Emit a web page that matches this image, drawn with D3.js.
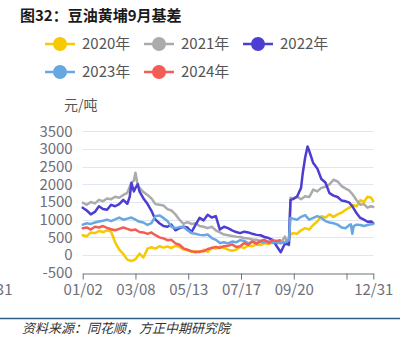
<!DOCTYPE html>
<html>
<head>
<meta charset="utf-8">
<script src="https://cdn.jsdelivr.net/npm/d3@7/dist/d3.min.js"></script>
<style>
  html, body { margin: 0; padding: 0; background: #fff; }
  svg { display: block; }
</style>
</head>
<body>
<svg id="chart" width="405" height="343"></svg>
<script>
// Category axis: tick dates and their positions in the daily category list
const tickLabels = ["01/02", "03/08", "05/13", "07/17", "09/20", "11/24", "12/31"];
const tickIndex = [0, 65, 130, 195, 260, 325, 358];
const hiddenTickLabels = ["11/24"];
const yTicks = [-500, 0, 500, 1000, 1500, 2000, 2500, 3000, 3500];

const seriesNames = ["2020年", "2021年", "2022年", "2023年", "2024年"];
const seriesColors = ["#f7c900", "#ababab", "#4c3dd3", "#68a8e2", "#f45c55"];

// Soybean oil Huangpu basis for the September contract, yuan/ton
const y2020 = [
  ["01/02",560],["01/07",530],["01/12",640],["01/17",620],["01/22",680],["01/27",650],
  ["02/01",700],["02/06",660],["02/11",360],["02/16",150],["02/21",30],["02/26",-130],
  ["03/03",-170],["03/08",-120],["03/13",40],["03/18",-70],["03/23",180],["03/28",220],
  ["04/02",180],["04/07",250],["04/12",210],["04/17",240],["04/22",200],["04/27",260],
  ["05/02",230],["05/07",160],["05/12",140],["05/17",90],["05/22",110],["05/27",80],
  ["06/01",150],["06/06",90],["06/11",210],["06/16",180],["06/21",240],["06/26",200],
  ["07/01",150],["07/06",120],["07/11",150],["07/16",230],["07/21",200],["07/26",270],
  ["07/31",250],["08/05",300],["08/10",280],["08/15",330],["08/20",310],["08/25",360],
  ["08/30",340],["09/04",380],["09/09",360],["09/14",400],["09/16",580],["09/19",620],
  ["09/24",600],["09/29",700],["10/04",760],["10/09",720],["10/14",850],["10/19",950],
  ["10/24",1100],["10/29",1060],["11/03",1150],["11/08",1080],["11/13",1150],["11/18",1200],
  ["11/23",1280],["11/28",1340],["12/03",1420],["12/08",1380],["12/13",1550],["12/18",1500],
  ["12/23",1650],["12/28",1620],["12/31",1520]
];
const y2021 = [
  ["01/02",1480],["01/07",1420],["01/12",1500],["01/17",1460],["01/22",1560],["01/27",1520],
  ["02/01",1600],["02/06",1580],["02/11",1650],["02/16",1620],["02/21",1700],["02/26",1760],
  ["03/03",2050],["03/06",2100],["03/08",2330],["03/11",1950],["03/13",1900],["03/18",1780],
  ["03/23",1700],["03/28",1600],["04/02",1440],["04/07",1420],["04/12",1400],["04/17",1300],
  ["04/22",1260],["04/27",1150],["05/02",1000],["05/07",880],["05/12",930],["05/17",880],
  ["05/22",900],["05/27",820],["06/01",800],["06/06",760],["06/11",800],["06/16",700],
  ["06/21",640],["06/26",580],["07/01",560],["07/06",540],["07/11",520],["07/16",510],
  ["07/21",480],["07/26",470],["07/31",440],["08/05",430],["08/10",400],["08/15",380],
  ["08/20",360],["08/25",340],["08/30",350],["09/04",330],["09/09",520],["09/14",280],
  ["09/16",1620],["09/19",1600],["09/24",1650],["09/29",1580],["10/04",1660],["10/09",1640],
  ["10/14",1850],["10/19",1800],["10/24",1900],["10/29",1930],["11/03",2000],["11/08",2130],
  ["11/13",2080],["11/18",1950],["11/23",1880],["11/28",1820],["12/03",1700],["12/08",1550],
  ["12/13",1420],["12/18",1440],["12/23",1340],["12/28",1380],["12/31",1360]
];
const y2022 = [
  ["01/02",1340],["01/07",1260],["01/12",1150],["01/17",1220],["01/22",1380],["01/27",1300],
  ["02/01",1280],["02/06",1420],["02/11",1380],["02/16",1440],["02/21",1560],["02/26",1450],
  ["03/01",1650],["03/03",2040],["03/06",1800],["03/08",1900],["03/11",2000],["03/13",1800],
  ["03/18",1600],["03/23",1450],["03/28",1250],["04/02",1000],["04/07",900],["04/12",820],
  ["04/17",800],["04/22",860],["04/27",700],["05/02",760],["05/07",800],["05/12",780],
  ["05/17",650],["05/22",850],["05/27",1050],["06/01",980],["06/06",1140],["06/11",1060],
  ["06/16",1100],["06/21",720],["06/26",800],["07/01",760],["07/06",700],["07/11",650],
  ["07/16",620],["07/21",660],["07/26",640],["07/31",600],["08/05",570],["08/10",560],
  ["08/15",510],["08/20",480],["08/25",430],["08/30",250],["09/04",80],["09/09",320],
  ["09/14",300],["09/16",1560],["09/19",1580],["09/24",1650],["09/29",1900],["10/01",2300],
  ["10/04",2750],["10/07",3070],["10/09",2950],["10/14",2600],["10/19",2450],["10/24",2150],
  ["10/29",2050],["11/03",1750],["11/08",1680],["11/13",1640],["11/18",1540],["11/23",1520],
  ["11/28",1480],["12/03",1350],["12/08",1180],["12/13",1050],["12/18",1000],["12/23",940],
  ["12/28",950],["12/31",900]
];
const y2023 = [
  ["01/02",860],["01/07",900],["01/12",880],["01/17",920],["01/22",950],["01/27",970],
  ["02/01",1000],["02/06",960],["02/11",1010],["02/16",1060],["02/21",1000],["02/26",1030],
  ["03/03",1060],["03/08",1000],["03/13",940],["03/18",920],["03/23",850],["03/28",900],
  ["04/02",1100],["04/07",1120],["04/12",1050],["04/17",960],["04/22",800],["04/27",760],
  ["05/02",790],["05/07",800],["05/12",700],["05/17",620],["05/22",600],["05/27",570],
  ["06/01",560],["06/06",580],["06/11",480],["06/16",430],["06/21",340],["06/26",360],
  ["07/01",330],["07/06",380],["07/11",360],["07/16",420],["07/21",400],["07/26",330],
  ["07/31",380],["08/05",340],["08/10",370],["08/15",360],["08/20",380],["08/25",350],
  ["08/30",370],["09/04",340],["09/09",360],["09/14",420],["09/16",1050],["09/19",1030],
  ["09/24",1000],["09/29",1080],["10/04",1130],["10/09",1000],["10/14",1050],["10/19",1100],
  ["10/24",1050],["10/29",960],["11/03",920],["11/08",900],["11/13",860],["11/18",780],
  ["11/23",760],["11/28",850],["11/30",870],["12/02",600],["12/04",820],["12/08",860],
  ["12/13",850],["12/18",820],["12/23",850],["12/28",870],["12/31",880]
];
const y2024 = [
  ["01/02",760],["01/07",780],["01/12",720],["01/17",800],["01/22",780],["01/27",820],
  ["02/01",770],["02/06",730],["02/11",700],["02/16",740],["02/21",780],["02/26",740],
  ["03/03",700],["03/08",720],["03/13",650],["03/18",640],["03/23",600],["03/28",640],
  ["04/02",560],["04/07",500],["04/12",470],["04/17",420],["04/22",430],["04/27",330],
  ["05/02",290],["05/07",190],["05/12",150],["05/17",110],["05/22",80],["05/27",100],
  ["06/01",110],["06/06",170],["06/11",200],["06/16",230],["06/21",200],["06/26",250],
  ["07/01",260],["07/06",300],["07/11",230],["07/16",250],["07/21",340],["07/26",290],
  ["07/31",380],["08/05",320],["08/10",400],["08/15",430],["08/20",350],["08/25",420],
  ["08/30",400],["09/03",420]
];
const seriesData = [y2020, y2021, y2022, y2023, y2024];

const svg = d3.select("#chart");
const plot = { left: 82.7, right: 373.3, top: 131.3, bottom: 272.7 };

const FONT = "'Noto Sans CJK SC', 'Noto Sans', sans-serif";
const parseMD = d3.timeParse("%Y/%m/%d");
const toDate = md => parseMD("2023/" + md);

// Daily category index -> pixel, then dates mapped piecewise through the tick dates
const xIndex = d3.scaleLinear().domain([0, 358]).range([plot.left, plot.right]);
const x = d3.scaleTime()
  .domain(tickLabels.map(toDate))
  .range(tickIndex.map(i => xIndex(i)));
const y = d3.scaleLinear().domain([-500, 3500]).range([plot.bottom, plot.top]);

// Title
svg.append("text")
  .attr("x", 20).attr("y", 21)
  .attr("font-family", FONT).attr("font-size", 15).attr("font-weight", "bold")
  .attr("fill", "#1a1a1a")
  .text("图32：豆油黄埔9月基差");

// Legend
const legendPos = [[45, 44], [144, 44], [243, 44], [45, 72], [144, 72]];
seriesNames.forEach((name, i) => {
  const [lx, ly] = legendPos[i];
  const g = svg.append("g").attr("transform", `translate(${lx},${ly})`);
  g.append("line").attr("x1", 0).attr("x2", 30).attr("y1", 0).attr("y2", 0)
    .attr("stroke", seriesColors[i]).attr("stroke-width", 2.5);
  g.append("circle").attr("cx", 15).attr("cy", 0).attr("r", 7).attr("fill", seriesColors[i]);
  g.append("text").attr("x", 37).attr("y", 0).attr("dy", "0.36em")
    .attr("font-family", FONT).attr("font-size", 15).attr("fill", "#555")
    .text(name);
});

// Unit label
svg.append("text")
  .attr("x", 64).attr("y", 110)
  .attr("font-family", FONT).attr("font-size", 14).attr("fill", "#555")
  .text("元/吨");

// Horizontal grid lines
svg.append("g").selectAll("line")
  .data(yTicks.filter(v => v !== -500))
  .join("line")
  .attr("x1", plot.left).attr("x2", plot.right)
  .attr("y1", d => Math.round(y(d)) + 0.5).attr("y2", d => Math.round(y(d)) + 0.5)
  .attr("stroke", "#e0e6f1").attr("stroke-width", 1);

// Y axis labels
const yAxis = d3.axisLeft(y).tickValues(yTicks).tickFormat(d => String(d))
  .tickSize(0).tickPadding(10);
const yg = svg.append("g").attr("transform", `translate(${plot.left},0)`).call(yAxis);
yg.select(".domain").remove();
yg.selectAll("text")
  .attr("font-family", FONT).attr("font-size", 15).attr("fill", "#6e7079");

// X axis
const xAxis = d3.axisBottom(x)
  .tickValues(tickLabels.map(toDate))
  .tickFormat(d => {
    const s = d3.timeFormat("%m/%d")(d);
    return hiddenTickLabels.includes(s) ? "" : s;
  })
  .tickSize(6).tickSizeOuter(0).tickPadding(5);
const xg = svg.append("g").attr("transform", `translate(0,${Math.round(plot.bottom) + 0.5})`).call(xAxis);
xg.select(".domain").attr("stroke", "#6e7079").attr("stroke-width", 1);
xg.selectAll(".tick line").attr("stroke", "#6e7079");
xg.selectAll("text")
  .attr("font-family", FONT).attr("font-size", 15).attr("fill", "#6e7079");

// Leading label of the previous year's end, clipped by the page edge
svg.append("text")
  .attr("x", 12.5).attr("y", 295)
  .attr("text-anchor", "end")
  .attr("font-family", FONT).attr("font-size", 15).attr("fill", "#6e7079")
  .text("12/31");

// Series lines
const line = d3.line()
  .x(d => x(toDate(d[0])))
  .y(d => y(d[1]));
seriesData.forEach((data, i) => {
  svg.append("path")
    .datum(data)
    .attr("d", line)
    .attr("fill", "none")
    .attr("stroke", seriesColors[i])
    .attr("stroke-width", 2.5)
    .attr("stroke-linejoin", "round")
    .attr("stroke-linecap", "round");
});

// Footer rule and source
svg.append("line")
  .attr("x1", 0).attr("x2", 400).attr("y1", 318.5).attr("y2", 318.5)
  .attr("stroke", "#2e6288").attr("stroke-width", 1.5);
svg.append("text")
  .attr("x", 22).attr("y", 333)
  .attr("font-family", FONT).attr("font-size", 13).attr("font-style", "italic")
  .attr("fill", "#333")
  .text("资料来源：同花顺，方正中期研究院");
</script>
</body>
</html>
